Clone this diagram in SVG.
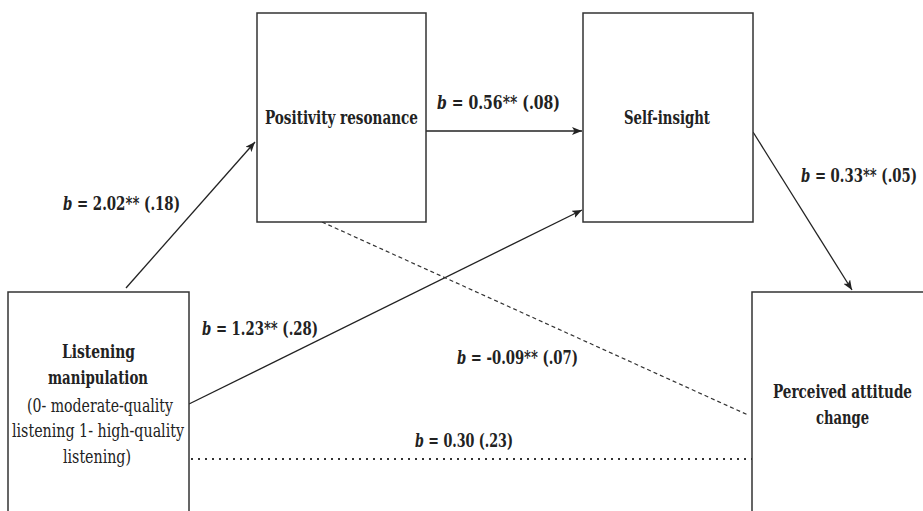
<svg xmlns="http://www.w3.org/2000/svg" width="923" height="511" viewBox="0 0 923 511">
<defs>
<style>
.box{fill:#fff;stroke:#333;stroke-width:1.5}
.ln{fill:none;stroke:#222;stroke-width:1.3}
.dash{fill:none;stroke:#333;stroke-width:1.2;stroke-dasharray:4 3}
.dot{fill:none;stroke:#333;stroke-width:2;stroke-dasharray:2 5}
.t{font-family:'DejaVu Serif Condensed','DejaVu Serif','Liberation Serif',serif;font-stretch:condensed;font-size:19px;fill:#222}
.b{font-weight:bold}
.i{font-style:italic}
</style>
<marker id="ah" markerUnits="userSpaceOnUse" markerWidth="11" markerHeight="8" refX="10" refY="4" orient="auto">
<path d="M0,0 L10,4 L0,8 L2.5,4 z" fill="#222"/>
</marker>
</defs>
<rect width="923" height="511" fill="#fff"/>
<g id="connectors">
<line class="ln" x1="126" y1="288" x2="255" y2="142" marker-end="url(#ah)"/>
<line class="ln" x1="426" y1="131" x2="582" y2="131" marker-end="url(#ah)"/>
<line class="ln" x1="753" y1="132" x2="852" y2="290" marker-end="url(#ah)"/>
<line class="ln" x1="189" y1="404" x2="582" y2="210" marker-end="url(#ah)"/>
<line class="dash" x1="322" y1="222" x2="748" y2="415"/>
<line class="dot" x1="191" y1="459" x2="752" y2="459"/>
<text class="t b" x="63" y="210" textLength="117" lengthAdjust="spacingAndGlyphs"><tspan class="i">b</tspan> = 2.02** (.18)</text>
<text class="t b" x="437" y="109" textLength="123" lengthAdjust="spacingAndGlyphs"><tspan class="i">b</tspan> = 0.56** (.08)</text>
<text class="t b" x="801" y="182" textLength="116" lengthAdjust="spacingAndGlyphs"><tspan class="i">b</tspan> = 0.33** (.05)</text>
<text class="t b" x="202" y="335" textLength="116" lengthAdjust="spacingAndGlyphs"><tspan class="i">b</tspan> = 1.23** (.28)</text>
<text class="t b" x="457" y="364" textLength="121" lengthAdjust="spacingAndGlyphs"><tspan class="i">b</tspan> = -0.09** (.07)</text>
<text class="t b" x="415" y="447" textLength="98" lengthAdjust="spacingAndGlyphs"><tspan class="i">b</tspan> = 0.30 (.23)</text>
</g>
<g id="node-positivity">
<rect class="box" x="257" y="13" width="169" height="209"/>
<text class="t b" x="265" y="124" textLength="153" lengthAdjust="spacingAndGlyphs">Positivity resonance</text>
</g>
<g id="node-selfinsight">
<rect class="box" x="583" y="13" width="170" height="209"/>
<text class="t b" x="624" y="124" textLength="86" lengthAdjust="spacingAndGlyphs">Self-insight</text>
</g>
<g id="node-listening">
<rect class="box" x="8" y="292" width="181" height="230"/>
<text class="t b" x="62" y="358" textLength="73" lengthAdjust="spacingAndGlyphs">Listening</text>
<text class="t b" x="48" y="384" textLength="100" lengthAdjust="spacingAndGlyphs">manipulation</text>
<text class="t" x="27" y="412" textLength="146" lengthAdjust="spacingAndGlyphs">(0- moderate-quality</text>
<text class="t" x="12" y="437" textLength="172" lengthAdjust="spacingAndGlyphs">listening 1- high-quality</text>
<text class="t" x="63" y="463" textLength="68" lengthAdjust="spacingAndGlyphs">listening)</text>
</g>
<g id="node-attitude">
<rect class="box" x="752" y="292" width="180" height="230"/>
<text class="t b" x="773" y="398" textLength="139" lengthAdjust="spacingAndGlyphs">Perceived attitude</text>
<text class="t b" x="816" y="424" textLength="53" lengthAdjust="spacingAndGlyphs">change</text>
</g>
</svg>
